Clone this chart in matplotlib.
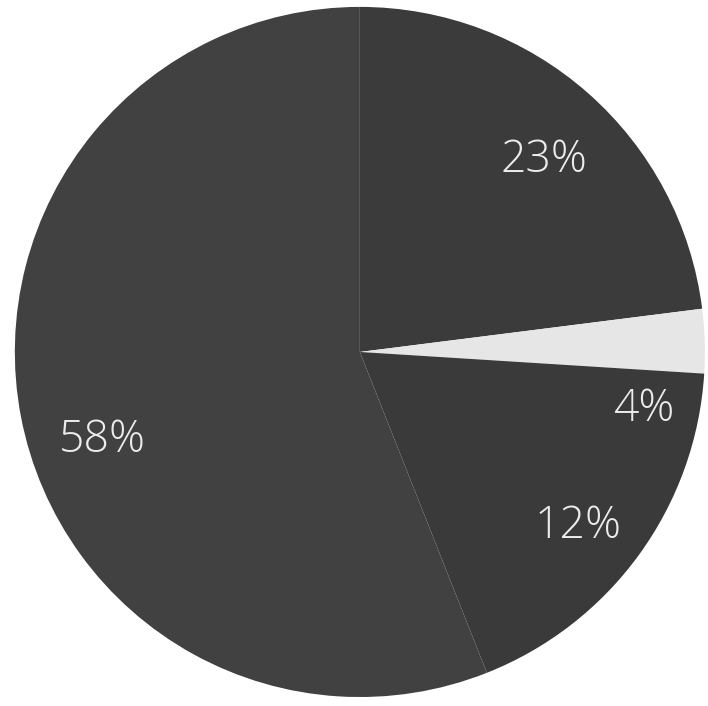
#!/usr/bin/env python3
import numpy as np
import matplotlib
matplotlib.use("Agg")
import matplotlib.pyplot as plt


# slice labels as printed, and slice sizes as drawn in the picture
labels = ["23%", "4%", "12%", "58%"]
sizes = [23, 3, 18, 56]
colors = ["#3b3b3b", "#e6e6e6", "#3a3a3a", "#414141"]

# label placement (radius as fraction of pie radius, angle in degrees)
label_radius = [0.77, 0.84, 0.81, 0.79]
label_angle = [46, -11.5, -38.8, -161]


def main():
    fig = plt.figure(figsize=(7.08, 7.06), dpi=100)
    ax = fig.add_axes([0, 0, 1, 1])

    ax.pie(
        sizes,
        colors=colors,
        startangle=90,
        counterclock=False,
        radius=1.0,
        wedgeprops={"linewidth": 0},
    )

    for text, r, a in zip(labels, label_radius, label_angle):
        t = np.deg2rad(a)
        ax.text(
            r * np.cos(t),
            r * np.sin(t),
            text,
            ha="center",
            va="center",
            fontsize=32,
            color="#ececec",
            family=["Open Sans", "DejaVu Sans"],
            fontweight="light",
        )

    ax.set_aspect("auto")
    ax.set_xlim(-1.043, 1.009)
    ax.set_ylim(-1.026, 1.020)
    ax.axis("off")
    fig.savefig("out.png", dpi=100, facecolor="white")
    plt.close(fig)


if __name__ == "__main__":
    main()
